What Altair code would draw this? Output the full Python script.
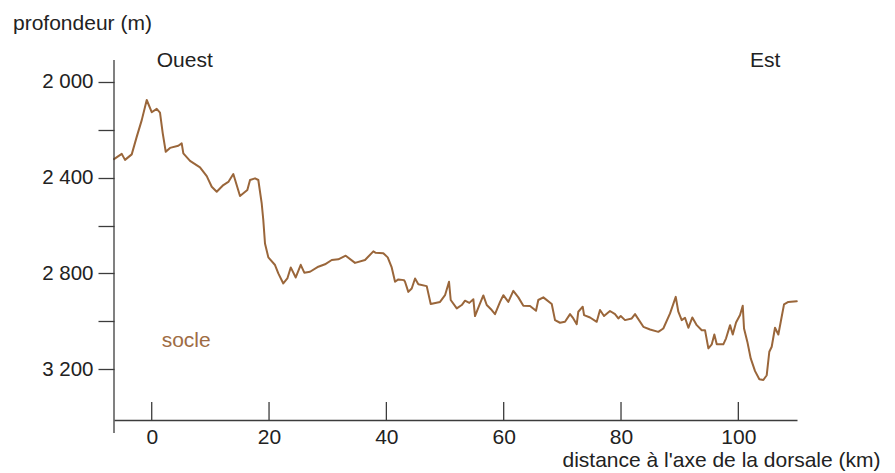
import altair as alt
import pandas as pd

km = [-6.43, -5.11, -4.55, -3.41, -2.56, -1.70, -0.85, 0.00, 0.85, 1.41, 1.88, 2.39, 3.12, 4.53, 5.11,
      5.39, 6.53, 8.23, 9.38, 10.23, 11.08, 12.21, 13.06, 13.91, 15.05, 16.30, 16.76, 17.61, 18.17,
      18.75, 19.02, 19.31, 19.88, 21.02, 21.58, 22.43, 23.12, 23.70, 24.55, 25.40, 26.01, 26.99,
      28.40, 29.54, 30.69, 31.81, 33.07, 34.66, 36.36, 37.78, 38.19, 39.48, 40.23, 40.91, 41.48,
      42.04, 43.01, 43.18, 43.74, 44.32, 44.89, 45.45, 46.88, 47.56, 49.15, 50.00, 50.68, 50.97,
      52.00, 52.85, 53.41, 54.14, 54.83, 55.11, 55.85, 56.53, 57.11, 57.96, 58.52, 59.38, 59.94,
      60.79, 61.64, 62.50, 63.35, 64.49, 65.51, 65.90, 66.76, 68.19, 68.75, 69.60, 70.45, 71.31,
      71.87, 72.45, 72.72, 73.47, 73.70, 74.72, 75.86, 76.42, 77.10, 78.12, 78.98, 79.54, 79.95,
      80.68, 81.83, 82.39, 83.81, 84.95, 86.36, 87.21, 88.36, 89.33, 89.77, 90.35, 90.91, 91.48,
      92.16, 92.91, 93.76, 94.32, 94.89, 95.47, 95.91, 96.32, 97.44, 97.91, 98.59, 99.05, 99.61,
      100.29, 100.75, 100.97, 101.54, 102.11, 102.85, 103.58, 104.26, 104.84, 105.28, 105.69,
      106.25, 106.82, 107.23, 107.79, 108.52, 109.96]
depth = [2323, 2301, 2326, 2303, 2230, 2160, 2076, 2127, 2113, 2129, 2215, 2292, 2276, 2267, 2257,
         2299, 2330, 2357, 2394, 2438, 2459, 2431, 2418, 2385, 2477, 2452, 2410, 2403, 2410,
         2508, 2577, 2675, 2733, 2765, 2800, 2842, 2821, 2775, 2817, 2764, 2797, 2793,
         2772, 2762, 2744, 2741, 2726, 2756, 2744, 2708, 2714, 2716, 2733, 2775, 2835,
         2825, 2828, 2835, 2877, 2863, 2821, 2845, 2853, 2928, 2919, 2891, 2835, 2911,
         2946, 2932, 2914, 2923, 2908, 2978, 2932, 2892, 2932, 2953, 2970, 2919, 2891,
         2919, 2873, 2900, 2935, 2936, 2956, 2911, 2900, 2928, 2995, 3006, 3002, 2970,
         2988, 3012, 2960, 2939, 2974, 2984, 3002, 2953, 2978, 2957, 2970, 2988, 2978,
         2995, 2988, 2970, 3023, 3034, 3044, 3030, 2967, 2898, 2960, 2995, 2985, 3027,
         2984, 3016, 3037, 3037, 3113, 3096, 3055, 3096, 3096, 3071, 3016, 3055, 3005,
         2974, 2935, 3030, 3086, 3155, 3208, 3242, 3245, 3225, 3127, 3106,
         3027, 3055, 3002, 2929, 2919, 2916]

x_ticks = [0, 20, 40, 60, 80, 100]
y_ticks = [2000, 2200, 2400, 2600, 2800, 3000, 3200]

note_text = ["Ouest", "Est", "socle"]
note_km = [0.85, 102.0, 1.7]
note_depth = [1937, 1937, 3106]
note_color = ["#222222", "#222222", "#9E6C44"]

LINE = "#9A663A"
AX = "#3c3c3c"
FONT = "Liberation Sans"

profile = pd.DataFrame({"km": km, "depth": depth})
ticks_df = pd.DataFrame({"km": x_ticks})
notes = pd.DataFrame({"t": note_text, "km": note_km, "depth": note_depth, "c": note_color})

xs = alt.Scale(domain=[-6.43, 110.0], nice=False, zero=False)
ys = alt.Scale(domain=[1909, 3412], nice=False, zero=False, reverse=True)

x_title = "distance à l'axe de la dorsale (km)"
y_title = "profondeur (m)"

line = alt.Chart(profile).mark_line(color=LINE, strokeWidth=2, interpolate="linear",
                                    strokeJoin="round", strokeCap="round").encode(
    x=alt.X("km:Q", scale=xs, title=x_title, axis=alt.Axis(
        values=x_ticks, ticks=False, grid=False, domainColor=AX, domainWidth=1.3,
        labelFontSize=21, labelFont=FONT, labelColor="#222222", labelPadding=6,
        titleFont=FONT, titleFontSize=21,
        titleFontWeight="normal", titleColor="#222222", titleAnchor="end", titleAlign="right",
        titleBaseline="alphabetic", titleX=766, titleY=46.5)),
    y=alt.Y("depth:Q", scale=ys, title=y_title, axis=alt.Axis(
        values=y_ticks, grid=False, domain=False, tickColor=AX, tickWidth=1.3, tickSize=16,
        labelFontSize=20.5, labelFont=FONT, labelColor="#222222", labelPadding=5,
        labelExpr="datum.value % 400 == 0 ? replace(format(datum.value, ','), ',', ' ') : ''",
        titleFont=FONT, titleFontSize=21, titleFontWeight="normal",
        titleColor="#222222", titleAngle=0, titleAlign="left", titleBaseline="alphabetic",
        titleX=-101.5, titleY=-31)),
)

xticks = alt.Chart(ticks_df).mark_rule(color=AX, strokeWidth=1.3).encode(
    x=alt.X("km:Q", scale=xs, title=x_title),
    y=alt.value(342), y2=alt.value(360),
)

yaxis_line = alt.Chart(ticks_df.head(1)).mark_rule(color=AX, strokeWidth=1.3).encode(
    x=alt.value(0), y=alt.value(0), y2=alt.value(373),
)

texts = alt.Chart(notes).mark_text(align="left", baseline="alphabetic", fontSize=21, font=FONT).encode(
    x=alt.X("km:Q", scale=xs, title=x_title),
    y=alt.Y("depth:Q", scale=ys, title=y_title),
    text="t:N",
    color=alt.Color("c:N", scale=None),
)

chart = alt.layer(line, xticks, yaxis_line, texts).properties(
    width=683, height=360,
    autosize=alt.AutoSizeParams(type="none"),
    padding={"left": 106, "top": 52, "right": 85, "bottom": 53},
    background="white",
).configure_view(stroke=None)

chart.save("out.html", embed_options={"renderer": "svg", "actions": False})
